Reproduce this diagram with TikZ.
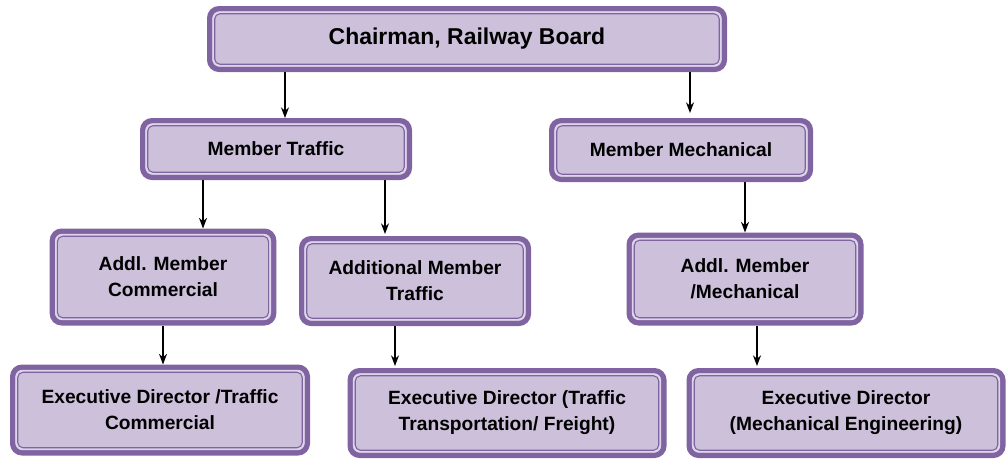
\documentclass[tikz,border=0pt]{standalone}
\usepackage{fontspec}
\setmainfont{Liberation Sans}
\usepackage{xcolor}
\usetikzlibrary{positioning, arrows.meta, calc}

\definecolor{boxedge}{HTML}{8064A2}
\definecolor{boxfill}{HTML}{CCC0DA}
\definecolor{boxring}{HTML}{DDD5E9}

\begin{document}
\begin{tikzpicture}[x=0.75pt, y=-0.75pt,
  post/.style={rectangle, draw=boxedge, line width=4pt, fill=boxfill, rounded corners=7pt,
    align=center, font=\bfseries\fontsize{14.4}{19.5}\selectfont, text=black},
  link/.style={-{Stealth[length=8pt, width=6pt]}, line width=1pt, black}]

\useasboundingbox (0,0) rectangle (1008,458);

% Top: chairman
\node[post, minimum width=386pt, minimum height=45.5pt, font=\bfseries\fontsize{17.2}{20}\selectfont] (chairman) at (467, 39) {Chairman, Railway Board};

% Second row: members
\node[post, minimum width=200pt, minimum height=42.5pt] (mtraffic) at (276, 149) {Member Traffic};
\node[post, minimum width=194pt, minimum height=44pt] (mmech) at (681, 150) {Member Mechanical};

% Third row: additional members
\node[post, minimum width=166pt, minimum height=68.75pt] (amcomm) at (163, 277) {Addl. Member\\Commercial};
\node[post, minimum width=170pt, minimum height=63.5pt] (amtraffic) at (415, 281) {Additional Member\\Traffic};
\node[post, minimum width=173.75pt, minimum height=65.75pt] (ammech) at (745, 279) {Addl. Member\\/Mechanical};

% Bottom row: executive directors
\node[post, minimum width=221pt, minimum height=64.25pt] (edcomm) at (160, 410) {Executive Director /Traffic\\Commercial};
\node[post, minimum width=235.25pt, minimum height=63.5pt] (edfreight) at (507, 413) {Executive Director (Traffic\\Transportation/ Freight)};
\node[post, minimum width=235.25pt, minimum height=63.5pt] (edmech) at (846, 413) {Executive Director\\(Mechanical Engineering)};

% Inner frames of every box (anchors sit on the outer edge of the border)
\foreach \n in {chairman, mtraffic, mmech, amcomm, amtraffic, ammech, edcomm, edfreight, edmech} {
  \draw[boxring, line width=1.4pt, rounded corners=5pt]
    ($(\n.south west)+(4.7pt,4.7pt)$) rectangle ($(\n.north east)+(-4.7pt,-4.7pt)$);
  \draw[boxedge, line width=0.8pt, rounded corners=4pt]
    ($(\n.south west)+(5.8pt,5.8pt)$) rectangle ($(\n.north east)+(-5.8pt,-5.8pt)$);
}

% Arrows
\draw[link] (chairman.south -| 285,0) -- (mtraffic.north -| 285,0);
\draw[link] (chairman.south -| 690,0) -- ($(mmech.north -| 690,0)+(0,-5)$);
\draw[link] (mtraffic.south -| 203,0) -- (amcomm.north -| 203,0);
\draw[link] (mtraffic.south -| 385,0) -- ($(amtraffic.north -| 385,0)+(0,-2)$);
\draw[link] (mmech.south -| 745,0) -- (ammech.north -| 745,0);
\draw[link] (amcomm.south -| 163,0) -- (edcomm.north -| 163,0);
\draw[link] (amtraffic.south -| 395,0) -- ($(edfreight.north -| 395,0)+(0,-2)$);
\draw[link] (ammech.south -| 757,0) -- ($(edmech.north -| 757,0)+(0,-2)$);

\end{tikzpicture}
\end{document}
